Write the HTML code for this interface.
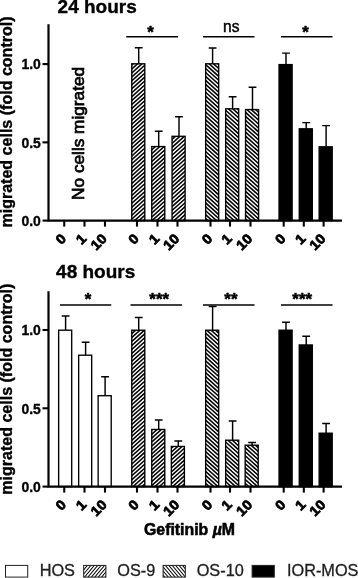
<!DOCTYPE html>
<html lang="en">
<head>
<meta charset="utf-8">
<title>Gefitinib migration</title>
<style>
html,body{margin:0;padding:0;background:#fff;}
body{width:358px;height:578px;overflow:hidden;position:relative;font-family:"Liberation Sans", Arial, Helvetica, sans-serif;}
svg{position:absolute;left:0;top:0;display:block;}
text{font-family:"Liberation Sans", Arial, Helvetica, sans-serif;fill:#000;}
.b{font-weight:bold;stroke:#000;stroke-width:0.35px;}
.xl{stroke-width:0.75px;}
.ax{stroke:#000;stroke-width:2.2;fill:none;stroke-linecap:butt;}
.tk{stroke:#000;stroke-width:2.1;fill:none;}
.er{stroke:#000;stroke-width:1.45;fill:none;}
.sg{stroke:#000;stroke-width:1.6;fill:none;}
.bar{stroke:#000;stroke-width:1.35;}
.lg{fill:#222;font-size:16.3px;stroke:#222;stroke-width:0.3px;}
</style>
</head>
<body>
<svg width="358" height="578" viewBox="0 0 358 578">
<rect x="0" y="0" width="358" height="578" fill="#fff"/>

<text class="b" x="57.6" y="13.2" font-size="19">24 hours</text>
<text class="b" transform="translate(11.7,122) rotate(-90)" text-anchor="middle" font-size="16.05">migrated cells (fold control)</text>
<path class="er" d="M138.70 63.80V47.80M134.80 47.80H142.60"/>
<clipPath id="c1"><rect x="131.75" y="63.80" width="13.05" height="156.80"/></clipPath><rect x="131.75" y="63.80" width="13.05" height="156.80" fill="#000"/><path clip-path="url(#c1)" d="M130.75 60.08L145.80 46.53M130.75 64.03L145.80 50.48M130.75 67.98L145.80 54.43M130.75 71.93L145.80 58.38M130.75 75.88L145.80 62.33M130.75 79.83L145.80 66.28M130.75 83.78L145.80 70.23M130.75 87.73L145.80 74.18M130.75 91.68L145.80 78.13M130.75 95.63L145.80 82.08M130.75 99.58L145.80 86.03M130.75 103.53L145.80 89.98M130.75 107.48L145.80 93.93M130.75 111.43L145.80 97.88M130.75 115.38L145.80 101.83M130.75 119.33L145.80 105.78M130.75 123.28L145.80 109.73M130.75 127.23L145.80 113.68M130.75 131.18L145.80 117.63M130.75 135.12L145.80 121.58M130.75 139.07L145.80 125.53M130.75 143.02L145.80 129.48M130.75 146.98L145.80 133.43M130.75 150.93L145.80 137.38M130.75 154.88L145.80 141.33M130.75 158.82L145.80 145.28M130.75 162.77L145.80 149.23M130.75 166.73L145.80 153.18M130.75 170.68L145.80 157.13M130.75 174.62L145.80 161.08M130.75 178.57L145.80 165.03M130.75 182.52L145.80 168.98M130.75 186.48L145.80 172.93M130.75 190.43L145.80 176.88M130.75 194.38L145.80 180.83M130.75 198.32L145.80 184.78M130.75 202.27L145.80 188.73M130.75 206.23L145.80 192.68M130.75 210.18L145.80 196.63M130.75 214.12L145.80 200.58M130.75 218.07L145.80 204.53M130.75 222.02L145.80 208.48M130.75 225.98L145.80 212.43M130.75 229.93L145.80 216.38M130.75 233.88L145.80 220.33M130.75 237.82L145.80 224.28" stroke="#fff" stroke-width="1.4" fill="none"/>
<rect class="bar" x="131.75" y="63.80" width="13.05" height="156.80" fill="none"/>
<path class="er" d="M158.70 146.55V131.30M154.80 131.30H162.60"/>
<clipPath id="c2"><rect x="151.75" y="146.55" width="13.05" height="74.05"/></clipPath><rect x="151.75" y="146.55" width="13.05" height="74.05" fill="#000"/><path clip-path="url(#c2)" d="M150.75 140.82L165.80 127.28M150.75 144.77L165.80 131.23M150.75 148.73L165.80 135.18M150.75 152.68L165.80 139.13M150.75 156.62L165.80 143.08M150.75 160.57L165.80 147.03M150.75 164.52L165.80 150.98M150.75 168.48L165.80 154.93M150.75 172.43L165.80 158.88M150.75 176.38L165.80 162.83M150.75 180.32L165.80 166.78M150.75 184.27L165.80 170.73M150.75 188.23L165.80 174.68M150.75 192.18L165.80 178.63M150.75 196.12L165.80 182.58M150.75 200.07L165.80 186.53M150.75 204.02L165.80 190.48M150.75 207.98L165.80 194.43M150.75 211.93L165.80 198.38M150.75 215.88L165.80 202.33M150.75 219.82L165.80 206.28M150.75 223.77L165.80 210.23M150.75 227.73L165.80 214.18M150.75 231.68L165.80 218.13M150.75 235.62L165.80 222.08M150.75 239.57L165.80 226.03" stroke="#fff" stroke-width="1.4" fill="none"/>
<rect class="bar" x="151.75" y="146.55" width="13.05" height="74.05" fill="none"/>
<path class="er" d="M179.00 136.30V116.80M175.10 116.80H182.90"/>
<clipPath id="c3"><rect x="172.05" y="136.30" width="13.05" height="84.30"/></clipPath><rect x="172.05" y="136.30" width="13.05" height="84.30" fill="#000"/><path clip-path="url(#c3)" d="M171.05 130.46L186.10 116.91M171.05 134.41L186.10 120.86M171.05 138.35L186.10 124.81M171.05 142.30L186.10 128.76M171.05 146.25L186.10 132.71M171.05 150.21L186.10 136.66M171.05 154.16L186.10 140.61M171.05 158.10L186.10 144.56M171.05 162.05L186.10 148.51M171.05 166.00L186.10 152.46M171.05 169.96L186.10 156.41M171.05 173.91L186.10 160.36M171.05 177.85L186.10 164.31M171.05 181.80L186.10 168.26M171.05 185.75L186.10 172.21M171.05 189.71L186.10 176.16M171.05 193.66L186.10 180.11M171.05 197.60L186.10 184.06M171.05 201.55L186.10 188.01M171.05 205.50L186.10 191.96M171.05 209.46L186.10 195.91M171.05 213.41L186.10 199.86M171.05 217.35L186.10 203.81M171.05 221.30L186.10 207.76M171.05 225.26L186.10 211.71M171.05 229.21L186.10 215.66M171.05 233.16L186.10 219.61M171.05 237.10L186.10 223.56M171.05 241.05L186.10 227.51" stroke="#fff" stroke-width="1.4" fill="none"/>
<rect class="bar" x="172.05" y="136.30" width="13.05" height="84.30" fill="none"/>
<path class="er" d="M212.60 63.80V48.00M208.70 48.00H216.50"/>
<clipPath id="c4"><rect x="205.65" y="63.80" width="13.05" height="156.80"/></clipPath><rect x="205.65" y="63.80" width="13.05" height="156.80" fill="#000"/><path clip-path="url(#c4)" d="M204.65 45.94L219.70 59.48M204.65 49.88L219.70 63.43M204.65 53.84L219.70 67.38M204.65 57.78L219.70 71.33M204.65 61.73L219.70 75.28M204.65 65.69L219.70 79.23M204.65 69.63L219.70 83.18M204.65 73.58L219.70 87.13M204.65 77.53L219.70 91.08M204.65 81.48L219.70 95.03M204.65 85.44L219.70 98.98M204.65 89.38L219.70 102.93M204.65 93.33L219.70 106.88M204.65 97.28L219.70 110.83M204.65 101.23L219.70 114.78M204.65 105.19L219.70 118.73M204.65 109.14L219.70 122.68M204.65 113.08L219.70 126.63M204.65 117.03L219.70 130.58M204.65 120.98L219.70 134.53M204.65 124.94L219.70 138.48M204.65 128.88L219.70 142.43M204.65 132.84L219.70 146.38M204.65 136.78L219.70 150.33M204.65 140.74L219.70 154.28M204.65 144.69L219.70 158.23M204.65 148.63L219.70 162.18M204.65 152.59L219.70 166.13M204.65 156.53L219.70 170.08M204.65 160.49L219.70 174.03M204.65 164.44L219.70 177.98M204.65 168.38L219.70 181.93M204.65 172.34L219.70 185.88M204.65 176.28L219.70 189.83M204.65 180.24L219.70 193.78M204.65 184.19L219.70 197.73M204.65 188.13L219.70 201.68M204.65 192.09L219.70 205.63M204.65 196.03L219.70 209.58M204.65 199.99L219.70 213.53M204.65 203.94L219.70 217.48M204.65 207.88L219.70 221.43M204.65 211.84L219.70 225.38M204.65 215.78L219.70 229.33M204.65 219.74L219.70 233.28M204.65 223.69L219.70 237.23" stroke="#fff" stroke-width="1.4" fill="none"/>
<rect class="bar" x="205.65" y="63.80" width="13.05" height="156.80" fill="none"/>
<path class="er" d="M232.60 108.80V96.75M228.70 96.75H236.50"/>
<clipPath id="c5"><rect x="225.65" y="108.80" width="13.05" height="111.80"/></clipPath><rect x="225.65" y="108.80" width="13.05" height="111.80" fill="#000"/><path clip-path="url(#c5)" d="M224.65 91.58L239.70 105.13M224.65 95.53L239.70 109.08M224.65 99.48L239.70 113.03M224.65 103.44L239.70 116.98M224.65 107.38L239.70 120.93M224.65 111.33L239.70 124.88M224.65 115.28L239.70 128.83M224.65 119.23L239.70 132.78M224.65 123.19L239.70 136.73M224.65 127.14L239.70 140.68M224.65 131.08L239.70 144.63M224.65 135.03L239.70 148.58M224.65 138.99L239.70 152.53M224.65 142.94L239.70 156.48M224.65 146.88L239.70 160.43M224.65 150.84L239.70 164.38M224.65 154.78L239.70 168.33M224.65 158.74L239.70 172.28M224.65 162.69L239.70 176.23M224.65 166.63L239.70 180.18M224.65 170.59L239.70 184.13M224.65 174.53L239.70 188.08M224.65 178.49L239.70 192.03M224.65 182.44L239.70 195.98M224.65 186.38L239.70 199.93M224.65 190.34L239.70 203.88M224.65 194.28L239.70 207.83M224.65 198.24L239.70 211.78M224.65 202.19L239.70 215.73M224.65 206.13L239.70 219.68M224.65 210.09L239.70 223.63M224.65 214.03L239.70 227.58M224.65 217.99L239.70 231.53M224.65 221.94L239.70 235.48M224.65 225.88L239.70 239.43" stroke="#fff" stroke-width="1.4" fill="none"/>
<rect class="bar" x="225.65" y="108.80" width="13.05" height="111.80" fill="none"/>
<path class="er" d="M252.50 109.55V87.25M248.60 87.25H256.40"/>
<clipPath id="c6"><rect x="245.55" y="109.55" width="13.05" height="111.05"/></clipPath><rect x="245.55" y="109.55" width="13.05" height="111.05" fill="#000"/><path clip-path="url(#c6)" d="M244.55 89.75L259.60 103.29M244.55 93.70L259.60 107.24M244.55 97.65L259.60 111.19M244.55 101.60L259.60 115.14M244.55 105.55L259.60 119.09M244.55 109.50L259.60 123.04M244.55 113.45L259.60 126.99M244.55 117.40L259.60 130.94M244.55 121.35L259.60 134.89M244.55 125.30L259.60 138.84M244.55 129.25L259.60 142.79M244.55 133.20L259.60 146.74M244.55 137.15L259.60 150.69M244.55 141.10L259.60 154.64M244.55 145.05L259.60 158.59M244.55 149.00L259.60 162.54M244.55 152.95L259.60 166.49M244.55 156.90L259.60 170.44M244.55 160.85L259.60 174.39M244.55 164.80L259.60 178.34M244.55 168.75L259.60 182.29M244.55 172.70L259.60 186.24M244.55 176.65L259.60 190.19M244.55 180.60L259.60 194.14M244.55 184.55L259.60 198.09M244.55 188.50L259.60 202.04M244.55 192.45L259.60 205.99M244.55 196.40L259.60 209.94M244.55 200.35L259.60 213.89M244.55 204.30L259.60 217.84M244.55 208.25L259.60 221.79M244.55 212.20L259.60 225.74M244.55 216.15L259.60 229.69M244.55 220.10L259.60 233.64M244.55 224.05L259.60 237.59" stroke="#fff" stroke-width="1.4" fill="none"/>
<rect class="bar" x="245.55" y="109.55" width="13.05" height="111.05" fill="none"/>
<path class="er" d="M286.00 64.60V53.10M282.10 53.10H289.90"/>
<rect class="bar" x="279.05" y="64.60" width="13.05" height="156.00" fill="#000"/>
<path class="er" d="M306.20 128.80V122.60M302.30 122.60H310.10"/>
<rect class="bar" x="299.25" y="128.80" width="13.05" height="91.80" fill="#000"/>
<path class="er" d="M326.10 146.80V125.60M322.20 125.60H330.00"/>
<rect class="bar" x="319.15" y="146.80" width="13.05" height="73.80" fill="#000"/>
<path class="sg" d="M126.25 36.75H178"/>
<text class="b" transform="translate(150.40,38.25) scale(1.0,0.93)" text-anchor="middle" font-size="16.8" style="stroke-width:0.55px;stroke-linejoin:round">*</text>
<path class="sg" d="M203 36.75H254.5"/>
<text x="231.3" y="32.45" text-anchor="middle" font-size="15.6" stroke="#000" stroke-width="0.45">ns</text>
<path class="sg" d="M281 36.75H332.5"/>
<text class="b" transform="translate(305.40,38.25) scale(1.0,0.93)" text-anchor="middle" font-size="16.8" style="stroke-width:0.55px;stroke-linejoin:round">*</text>
<path class="ax" d="M48.5 24.3V220.6M47.5 220.6H342.0"/>
<path class="tk" d="M42.5 220.60H48.5"/>
<text class="b" transform="translate(40.8,225.90) scale(0.95,1)" text-anchor="end" font-size="14.7">0.0</text>
<path class="tk" d="M42.5 142.35H48.5"/>
<text class="b" transform="translate(40.8,147.65) scale(0.95,1)" text-anchor="end" font-size="14.7">0.5</text>
<path class="tk" d="M42.5 64.10H48.5"/>
<text class="b" transform="translate(40.8,69.40) scale(0.95,1)" text-anchor="end" font-size="14.7">1.0</text>
<path class="tk" d="M64.25 220.6V226.6"/>
<text class="b xl" transform="translate(67.05,239.50) rotate(-45) scale(1.07,1)" text-anchor="end" font-size="13.7">0</text>
<path class="tk" d="M84.5 220.6V226.6"/>
<text class="b xl" transform="translate(87.30,239.50) rotate(-45) scale(1.07,1)" text-anchor="end" font-size="13.7">1</text>
<path class="tk" d="M105 220.6V226.6"/>
<text class="b xl" transform="translate(107.80,239.50) rotate(-45) scale(1.07,1)" text-anchor="end" font-size="13.7">10</text>
<path class="tk" d="M137 220.6V226.6"/>
<text class="b xl" transform="translate(139.80,239.50) rotate(-45) scale(1.07,1)" text-anchor="end" font-size="13.7">0</text>
<path class="tk" d="M157.5 220.6V226.6"/>
<text class="b xl" transform="translate(160.30,239.50) rotate(-45) scale(1.07,1)" text-anchor="end" font-size="13.7">1</text>
<path class="tk" d="M177.5 220.6V226.6"/>
<text class="b xl" transform="translate(180.30,239.50) rotate(-45) scale(1.07,1)" text-anchor="end" font-size="13.7">10</text>
<path class="tk" d="M210.5 220.6V226.6"/>
<text class="b xl" transform="translate(213.30,239.50) rotate(-45) scale(1.07,1)" text-anchor="end" font-size="13.7">0</text>
<path class="tk" d="M230 220.6V226.6"/>
<text class="b xl" transform="translate(232.80,239.50) rotate(-45) scale(1.07,1)" text-anchor="end" font-size="13.7">1</text>
<path class="tk" d="M250.5 220.6V226.6"/>
<text class="b xl" transform="translate(253.30,239.50) rotate(-45) scale(1.07,1)" text-anchor="end" font-size="13.7">10</text>
<path class="tk" d="M283.7 220.6V226.6"/>
<text class="b xl" transform="translate(286.50,239.50) rotate(-45) scale(1.07,1)" text-anchor="end" font-size="13.7">0</text>
<path class="tk" d="M303.8 220.6V226.6"/>
<text class="b xl" transform="translate(306.60,239.50) rotate(-45) scale(1.07,1)" text-anchor="end" font-size="13.7">1</text>
<path class="tk" d="M323.6 220.6V226.6"/>
<text class="b xl" transform="translate(326.40,239.50) rotate(-45) scale(1.07,1)" text-anchor="end" font-size="13.7">10</text>
<text transform="translate(84.2,133.4) rotate(-90)" text-anchor="middle" font-size="16.3" stroke="#000" stroke-width="0.7" textLength="133" lengthAdjust="spacingAndGlyphs">No cells migrated</text>
<text class="b" x="56.1" y="277.9" font-size="19">48 hours</text>
<text class="b" transform="translate(11.7,389.2) rotate(-90)" text-anchor="middle" font-size="16.05">migrated cells (fold control)</text>
<path class="er" d="M65.60 330.20V316.00M61.70 316.00H69.50"/>
<rect class="bar" x="58.65" y="330.20" width="13.05" height="156.40" fill="#fff"/>
<path class="er" d="M85.60 355.20V342.25M81.70 342.25H89.50"/>
<rect class="bar" x="78.65" y="355.20" width="13.05" height="131.40" fill="#fff"/>
<path class="er" d="M105.10 395.70V376.75M101.20 376.75H109.00"/>
<rect class="bar" x="98.15" y="395.70" width="13.05" height="90.90" fill="#fff"/>
<path class="er" d="M138.70 330.20V317.50M134.80 317.50H142.60"/>
<clipPath id="c7"><rect x="131.75" y="330.20" width="13.05" height="156.40"/></clipPath><rect x="131.75" y="330.20" width="13.05" height="156.40" fill="#000"/><path clip-path="url(#c7)" d="M130.75 324.73L145.80 311.18M130.75 328.68L145.80 315.13M130.75 332.62L145.80 319.08M130.75 336.57L145.80 323.03M130.75 340.53L145.80 326.98M130.75 344.48L145.80 330.93M130.75 348.43L145.80 334.88M130.75 352.38L145.80 338.83M130.75 356.32L145.80 342.78M130.75 360.28L145.80 346.73M130.75 364.23L145.80 350.68M130.75 368.18L145.80 354.63M130.75 372.12L145.80 358.58M130.75 376.07L145.80 362.53M130.75 380.03L145.80 366.48M130.75 383.98L145.80 370.43M130.75 387.93L145.80 374.38M130.75 391.88L145.80 378.33M130.75 395.82L145.80 382.28M130.75 399.78L145.80 386.23M130.75 403.72L145.80 390.18M130.75 407.68L145.80 394.13M130.75 411.63L145.80 398.08M130.75 415.57L145.80 402.03M130.75 419.53L145.80 405.98M130.75 423.47L145.80 409.93M130.75 427.43L145.80 413.88M130.75 431.38L145.80 417.83M130.75 435.32L145.80 421.78M130.75 439.28L145.80 425.73M130.75 443.22L145.80 429.68M130.75 447.18L145.80 433.63M130.75 451.13L145.80 437.58M130.75 455.07L145.80 441.53M130.75 459.03L145.80 445.48M130.75 462.97L145.80 449.43M130.75 466.93L145.80 453.38M130.75 470.88L145.80 457.33M130.75 474.82L145.80 461.28M130.75 478.78L145.80 465.23M130.75 482.72L145.80 469.18M130.75 486.68L145.80 473.13M130.75 490.63L145.80 477.08M130.75 494.57L145.80 481.03M130.75 498.53L145.80 484.98M130.75 502.47L145.80 488.93M130.75 506.43L145.80 492.88" stroke="#fff" stroke-width="1.4" fill="none"/>
<rect class="bar" x="131.75" y="330.20" width="13.05" height="156.40" fill="none"/>
<path class="er" d="M158.70 429.45V420.00M154.80 420.00H162.60"/>
<clipPath id="c8"><rect x="151.75" y="429.45" width="13.05" height="57.15"/></clipPath><rect x="151.75" y="429.45" width="13.05" height="57.15" fill="#000"/><path clip-path="url(#c8)" d="M150.75 425.22L165.80 411.68M150.75 429.18L165.80 415.63M150.75 433.13L165.80 419.58M150.75 437.07L165.80 423.53M150.75 441.03L165.80 427.48M150.75 444.97L165.80 431.43M150.75 448.93L165.80 435.38M150.75 452.88L165.80 439.33M150.75 456.82L165.80 443.28M150.75 460.78L165.80 447.23M150.75 464.72L165.80 451.18M150.75 468.68L165.80 455.13M150.75 472.63L165.80 459.08M150.75 476.57L165.80 463.03M150.75 480.53L165.80 466.98M150.75 484.47L165.80 470.93M150.75 488.43L165.80 474.88M150.75 492.38L165.80 478.83M150.75 496.32L165.80 482.78M150.75 500.28L165.80 486.73M150.75 504.22L165.80 490.68" stroke="#fff" stroke-width="1.4" fill="none"/>
<rect class="bar" x="151.75" y="429.45" width="13.05" height="57.15" fill="none"/>
<path class="er" d="M178.30 446.45V441.00M174.40 441.00H182.20"/>
<clipPath id="c9"><rect x="171.35" y="446.45" width="13.05" height="40.15"/></clipPath><rect x="171.35" y="446.45" width="13.05" height="40.15" fill="#000"/><path clip-path="url(#c9)" d="M170.35 443.14L185.40 429.59M170.35 447.08L185.40 433.54M170.35 451.04L185.40 437.49M170.35 454.99L185.40 441.44M170.35 458.94L185.40 445.39M170.35 462.89L185.40 449.34M170.35 466.83L185.40 453.29M170.35 470.79L185.40 457.24M170.35 474.74L185.40 461.19M170.35 478.69L185.40 465.14M170.35 482.64L185.40 469.09M170.35 486.58L185.40 473.04M170.35 490.54L185.40 476.99M170.35 494.49L185.40 480.94M170.35 498.44L185.40 484.89M170.35 502.39L185.40 488.84M170.35 506.33L185.40 492.79" stroke="#fff" stroke-width="1.4" fill="none"/>
<rect class="bar" x="171.35" y="446.45" width="13.05" height="40.15" fill="none"/>
<path class="er" d="M212.60 330.20V306.50M208.70 306.50H216.50"/>
<clipPath id="c10"><rect x="205.65" y="330.20" width="13.05" height="156.40"/></clipPath><rect x="205.65" y="330.20" width="13.05" height="156.40" fill="#000"/><path clip-path="url(#c10)" d="M204.65 310.59L219.70 324.13M204.65 314.53L219.70 328.08M204.65 318.49L219.70 332.03M204.65 322.44L219.70 335.98M204.65 326.38L219.70 339.93M204.65 330.34L219.70 343.88M204.65 334.28L219.70 347.83M204.65 338.24L219.70 351.78M204.65 342.19L219.70 355.73M204.65 346.13L219.70 359.68M204.65 350.09L219.70 363.63M204.65 354.03L219.70 367.58M204.65 357.99L219.70 371.53M204.65 361.94L219.70 375.48M204.65 365.88L219.70 379.43M204.65 369.84L219.70 383.38M204.65 373.79L219.70 387.33M204.65 377.74L219.70 391.28M204.65 381.69L219.70 395.23M204.65 385.63L219.70 399.18M204.65 389.59L219.70 403.13M204.65 393.54L219.70 407.08M204.65 397.49L219.70 411.03M204.65 401.44L219.70 414.98M204.65 405.38L219.70 418.93M204.65 409.34L219.70 422.88M204.65 413.29L219.70 426.83M204.65 417.24L219.70 430.78M204.65 421.19L219.70 434.73M204.65 425.13L219.70 438.68M204.65 429.09L219.70 442.63M204.65 433.04L219.70 446.58M204.65 436.99L219.70 450.53M204.65 440.94L219.70 454.48M204.65 444.88L219.70 458.43M204.65 448.84L219.70 462.38M204.65 452.79L219.70 466.33M204.65 456.74L219.70 470.28M204.65 460.69L219.70 474.23M204.65 464.63L219.70 478.18M204.65 468.59L219.70 482.13M204.65 472.54L219.70 486.08M204.65 476.49L219.70 490.03M204.65 480.44L219.70 493.98M204.65 484.38L219.70 497.93M204.65 488.34L219.70 501.88M204.65 492.29L219.70 505.83" stroke="#fff" stroke-width="1.4" fill="none"/>
<rect class="bar" x="205.65" y="330.20" width="13.05" height="156.40" fill="none"/>
<path class="er" d="M232.60 440.20V421.00M228.70 421.00H236.50"/>
<clipPath id="c11"><rect x="225.65" y="440.20" width="13.05" height="46.40"/></clipPath><rect x="225.65" y="440.20" width="13.05" height="46.40" fill="#000"/><path clip-path="url(#c11)" d="M224.65 423.38L239.70 436.93M224.65 427.34L239.70 440.88M224.65 431.29L239.70 444.83M224.65 435.24L239.70 448.78M224.65 439.19L239.70 452.73M224.65 443.13L239.70 456.68M224.65 447.09L239.70 460.63M224.65 451.04L239.70 464.58M224.65 454.99L239.70 468.53M224.65 458.94L239.70 472.48M224.65 462.88L239.70 476.43M224.65 466.84L239.70 480.38M224.65 470.79L239.70 484.33M224.65 474.74L239.70 488.28M224.65 478.69L239.70 492.23M224.65 482.63L239.70 496.18M224.65 486.59L239.70 500.13M224.65 490.54L239.70 504.08" stroke="#fff" stroke-width="1.4" fill="none"/>
<rect class="bar" x="225.65" y="440.20" width="13.05" height="46.40" fill="none"/>
<path class="er" d="M252.10 445.20V442.50M248.20 442.50H256.00"/>
<clipPath id="c12"><rect x="245.15" y="445.20" width="13.05" height="41.40"/></clipPath><rect x="245.15" y="445.20" width="13.05" height="41.40" fill="#000"/><path clip-path="url(#c12)" d="M244.15 425.13L259.20 438.68M244.15 429.09L259.20 442.63M244.15 433.04L259.20 446.58M244.15 436.99L259.20 450.53M244.15 440.94L259.20 454.48M244.15 444.88L259.20 458.43M244.15 448.84L259.20 462.38M244.15 452.79L259.20 466.33M244.15 456.74L259.20 470.28M244.15 460.69L259.20 474.23M244.15 464.63L259.20 478.18M244.15 468.59L259.20 482.13M244.15 472.54L259.20 486.08M244.15 476.49L259.20 490.03M244.15 480.44L259.20 493.98M244.15 484.39L259.20 497.93M244.15 488.34L259.20 501.88M244.15 492.29L259.20 505.83" stroke="#fff" stroke-width="1.4" fill="none"/>
<rect class="bar" x="245.15" y="445.20" width="13.05" height="41.40" fill="none"/>
<path class="er" d="M286.00 330.20V322.25M282.10 322.25H289.90"/>
<rect class="bar" x="279.05" y="330.20" width="13.05" height="156.40" fill="#000"/>
<path class="er" d="M306.20 344.95V336.25M302.30 336.25H310.10"/>
<rect class="bar" x="299.25" y="344.95" width="13.05" height="141.65" fill="#000"/>
<path class="er" d="M326.10 433.20V423.50M322.20 423.50H330.00"/>
<rect class="bar" x="319.15" y="433.20" width="13.05" height="53.40" fill="#000"/>
<path class="sg" d="M60 305.0H111.25"/>
<text class="b" transform="translate(87.90,304.70) scale(1.0,0.93)" text-anchor="middle" font-size="16.8" style="stroke-width:0.55px;stroke-linejoin:round">*</text>
<path class="sg" d="M130.5 305.0H182"/>
<text class="b" transform="translate(159.15,304.70) scale(1.0,0.93)" text-anchor="middle" font-size="16.8" style="stroke-width:0.55px;stroke-linejoin:round">***</text>
<path class="sg" d="M203 305.0H254.5"/>
<text class="b" transform="translate(230.90,304.70) scale(1.0,0.93)" text-anchor="middle" font-size="16.8" style="stroke-width:0.55px;stroke-linejoin:round">**</text>
<path class="sg" d="M281 305.0H332.5"/>
<text class="b" transform="translate(302.15,304.70) scale(1.0,0.93)" text-anchor="middle" font-size="16.8" style="stroke-width:0.55px;stroke-linejoin:round">***</text>
<path class="ax" d="M48.5 291.25V486.6M47.5 486.6H342.0"/>
<path class="tk" d="M42.5 486.60H48.5"/>
<text class="b" transform="translate(40.8,491.90) scale(0.95,1)" text-anchor="end" font-size="14.7">0.0</text>
<path class="tk" d="M42.5 408.30H48.5"/>
<text class="b" transform="translate(40.8,413.60) scale(0.95,1)" text-anchor="end" font-size="14.7">0.5</text>
<path class="tk" d="M42.5 330.00H48.5"/>
<text class="b" transform="translate(40.8,335.30) scale(0.95,1)" text-anchor="end" font-size="14.7">1.0</text>
<path class="tk" d="M64.25 486.6V492.6"/>
<text class="b xl" transform="translate(67.05,505.50) rotate(-45) scale(1.07,1)" text-anchor="end" font-size="13.7">0</text>
<path class="tk" d="M84.5 486.6V492.6"/>
<text class="b xl" transform="translate(87.30,505.50) rotate(-45) scale(1.07,1)" text-anchor="end" font-size="13.7">1</text>
<path class="tk" d="M105 486.6V492.6"/>
<text class="b xl" transform="translate(107.80,505.50) rotate(-45) scale(1.07,1)" text-anchor="end" font-size="13.7">10</text>
<path class="tk" d="M137 486.6V492.6"/>
<text class="b xl" transform="translate(139.80,505.50) rotate(-45) scale(1.07,1)" text-anchor="end" font-size="13.7">0</text>
<path class="tk" d="M157.5 486.6V492.6"/>
<text class="b xl" transform="translate(160.30,505.50) rotate(-45) scale(1.07,1)" text-anchor="end" font-size="13.7">1</text>
<path class="tk" d="M177.5 486.6V492.6"/>
<text class="b xl" transform="translate(180.30,505.50) rotate(-45) scale(1.07,1)" text-anchor="end" font-size="13.7">10</text>
<path class="tk" d="M210.5 486.6V492.6"/>
<text class="b xl" transform="translate(213.30,505.50) rotate(-45) scale(1.07,1)" text-anchor="end" font-size="13.7">0</text>
<path class="tk" d="M230 486.6V492.6"/>
<text class="b xl" transform="translate(232.80,505.50) rotate(-45) scale(1.07,1)" text-anchor="end" font-size="13.7">1</text>
<path class="tk" d="M250.5 486.6V492.6"/>
<text class="b xl" transform="translate(253.30,505.50) rotate(-45) scale(1.07,1)" text-anchor="end" font-size="13.7">10</text>
<path class="tk" d="M283.7 486.6V492.6"/>
<text class="b xl" transform="translate(286.50,505.50) rotate(-45) scale(1.07,1)" text-anchor="end" font-size="13.7">0</text>
<path class="tk" d="M303.8 486.6V492.6"/>
<text class="b xl" transform="translate(306.60,505.50) rotate(-45) scale(1.07,1)" text-anchor="end" font-size="13.7">1</text>
<path class="tk" d="M323.6 486.6V492.6"/>
<text class="b xl" transform="translate(326.40,505.50) rotate(-45) scale(1.07,1)" text-anchor="end" font-size="13.7">10</text>
<text class="b" x="144" y="535.2" font-size="15.85" style="stroke-width:0.55px">Gefitinib <tspan font-style="italic">µ</tspan>M</text>
<rect x="5.5" y="565.4" width="22.2" height="11.7" fill="#fff" stroke="#222" stroke-width="1"/>
<text class="lg" x="39.7" y="575.9">HOS</text>
<clipPath id="c13"><rect x="83.70" y="565.40" width="22.20" height="11.70"/></clipPath><rect x="83.70" y="565.40" width="22.20" height="11.70" fill="#000"/><path clip-path="url(#c13)" d="M82.70 560.86L106.90 531.82M82.70 564.96L106.90 535.92M82.70 569.06L106.90 540.02M82.70 573.16L106.90 544.12M82.70 577.26L106.90 548.22M82.70 581.36L106.90 552.32M82.70 585.46L106.90 556.42M82.70 589.56L106.90 560.52M82.70 593.66L106.90 564.62M82.70 597.76L106.90 568.72M82.70 601.86L106.90 572.82M82.70 605.96L106.90 576.92M82.70 610.06L106.90 581.02" stroke="#fff" stroke-width="1.65" fill="none"/>
<rect x="83.7" y="565.4" width="22.2" height="11.7" fill="none" stroke="#222" stroke-width="1"/>
<text class="lg" x="117.3" y="575.9">OS-9</text>
<clipPath id="c14"><rect x="163.10" y="565.40" width="22.20" height="11.70"/></clipPath><rect x="163.10" y="565.40" width="22.20" height="11.70" fill="#000"/><path clip-path="url(#c14)" d="M162.10 530.72L186.30 559.76M162.10 534.82L186.30 563.86M162.10 538.92L186.30 567.96M162.10 543.02L186.30 572.06M162.10 547.12L186.30 576.16M162.10 551.22L186.30 580.26M162.10 555.32L186.30 584.36M162.10 559.42L186.30 588.46M162.10 563.52L186.30 592.56M162.10 567.62L186.30 596.66M162.10 571.72L186.30 600.76M162.10 575.82L186.30 604.86M162.10 579.92L186.30 608.96M162.10 584.02L186.30 613.06" stroke="#fff" stroke-width="1.65" fill="none"/>
<rect x="163.1" y="565.4" width="22.2" height="11.7" fill="none" stroke="#222" stroke-width="1"/>
<text class="lg" x="196.7" y="575.9">OS-10</text>
<rect x="252.1" y="565.4" width="22.2" height="11.7" fill="#000" stroke="#222" stroke-width="1"/>
<text class="lg" x="287.0" y="575.9">IOR-MOS</text>
</svg>
</body>
</html>
